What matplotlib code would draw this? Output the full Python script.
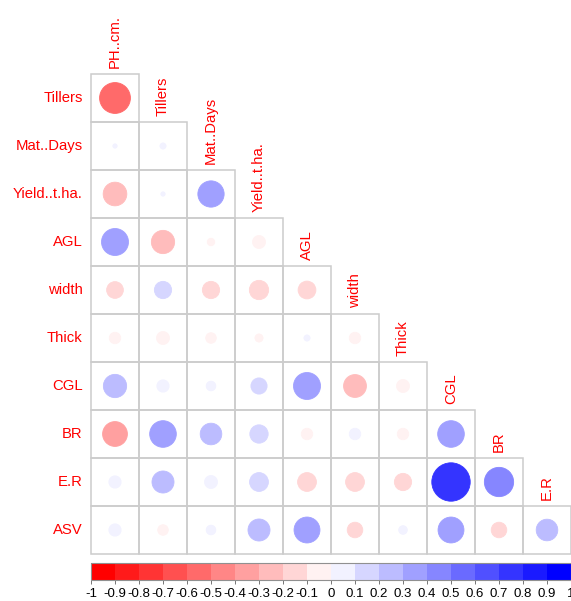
import numpy as np
import matplotlib
matplotlib.use("Agg")
import matplotlib.pyplot as plt
from matplotlib.patches import Circle, Rectangle
from matplotlib.colors import LinearSegmentedColormap, ListedColormap, BoundaryNorm
from matplotlib.colorbar import ColorbarBase

plt.rcParams['font.family'] = ['Liberation Sans', 'DejaVu Sans']

col_names = ["PH..cm.", "Tillers", "Mat..Days", "Yield..t.ha.", "AGL",
             "width", "Thick", "CGL", "BR", "E.R"]
row_names = ["Tillers", "Mat..Days", "Yield..t.ha.", "AGL", "width",
             "Thick", "CGL", "BR", "E.R", "ASV"]

# lower-triangle correlations, row by row (row i has i+1 values)
r_tillers = [-0.51]
r_mat = [0.01, 0.02]
r_yield = [-0.30, 0.01, 0.37]
r_agl = [0.39, -0.29, -0.03, -0.09]
r_width = [-0.15, 0.16, -0.16, -0.20, -0.17]
r_thick = [-0.07, -0.09, -0.06, -0.035, 0.02, -0.07]
r_cgl = [0.29, 0.08, 0.05, 0.14, 0.39, -0.28, -0.09]
r_br = [-0.33, 0.38, 0.25, 0.18, -0.07, 0.07, -0.07, 0.38]
r_er = [0.08, 0.26, 0.09, 0.19, -0.19, -0.19, -0.16, 0.79, 0.46]
r_asv = [0.08, -0.06, 0.05, 0.26, 0.36, -0.13, 0.04, 0.36, -0.13, 0.25]
rows = [r_tillers, r_mat, r_yield, r_agl, r_width, r_thick, r_cgl, r_br, r_er, r_asv]

bar_ticks = np.round(np.arange(-1, 1.01, 0.1), 1)
bar_labels = ['%g' % t if abs(t) > 1e-9 else '0' for t in bar_ticks]

base = LinearSegmentedColormap.from_list("rwb", ["#FF0000", "#FFFFFF", "#0000FF"])
cmap = ListedColormap([base(i / 19) for i in range(20)])
norm = BoundaryNorm(bar_ticks, cmap.N)

W, H = 571, 601
fig = plt.figure(figsize=(W / 100, H / 100), dpi=100)
n = len(row_names)
ax = fig.add_axes([91 / W, (H - 554) / H, 480 / W, 480 / H])
ax.set_xlim(-0.5, n - 0.5)
ax.set_ylim(n - 0.5, -0.5)
ax.axis('off')

for i, vals in enumerate(rows):
    for j, v in enumerate(vals):
        ax.add_patch(Rectangle((j - 0.5, i - 0.5), 1, 1, fill=False,
                               edgecolor='#cccccc', lw=1.1, clip_on=False))
    for j, v in enumerate(vals):
        c = cmap(norm(v))
        ax.add_patch(Circle((j, i), 0.45 * np.sqrt(abs(v)), facecolor=c,
                            edgecolor=c, lw=0.6))
    ax.text(-0.67, i, row_names[i], color='#FF0000', fontsize=10.7,
            ha='right', va='center')

for j, name in enumerate(col_names):
    ax.text(j, j - 0.62, name, color='#FF0000', fontsize=10.7, rotation=90,
            ha='center', va='bottom')

cax = fig.add_axes([91 / W, (H - 580) / H, 480 / W, 17 / H])
cb = ColorbarBase(cax, cmap=cmap, norm=norm, orientation='horizontal',
                  boundaries=bar_ticks, ticks=bar_ticks)
cb.set_ticklabels(bar_labels)
cb.outline.set_edgecolor('#909090')
cb.outline.set_linewidth(0.8)
cax.tick_params(axis='x', length=3, width=0.6, color='#606060',
                labelsize=9.5, pad=3)

fig.savefig("out.png", dpi=100)
